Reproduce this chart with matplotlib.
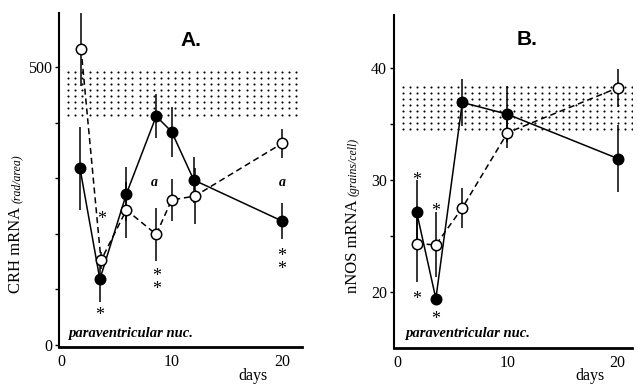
import numpy as np
import matplotlib
matplotlib.use("Agg")
import matplotlib.pyplot as plt

SERIF = "Liberation Serif"
SANS = "Liberation Sans"

# ---------------- Panel A: CRH mRNA ----------------
a_open_x = [1.8, 3.6, 5.9, 8.6, 10.0, 12.1, 20.0]
a_open_y = [533, 152, 243, 199, 261, 268, 363]
a_open_e = [66, 15, 50, 48, 38, 50, 26]
a_fill_x = [1.7, 3.5, 5.9, 8.6, 10.0, 12.0, 20.0]
a_fill_y = [318, 118, 272, 412, 384, 297, 223]
a_fill_e = [75, 40, 48, 40, 45, 41, 33]
a_band = [415, 492]
a_band_x = [0.63, 21.3]

# ---------------- Panel B: nNOS mRNA ----------------
b_open_x = [1.76, 3.5, 5.9, 10.0, 20.0]
b_open_y = [24.3, 24.2, 27.5, 34.2, 38.2]
b_open_e = [3.4, 2.9, 1.8, 1.4, 1.7]
b_fill_x = [1.76, 3.5, 5.9, 10.0, 20.0]
b_fill_y = [27.1, 19.4, 36.9, 35.85, 31.9]
b_fill_e = [2.9, 0.5, 2.1, 2.5, 3.0]
b_band = [34.5, 38.25]
b_band_x = [0.5, 21.3]

fig = plt.figure(figsize=(6.38, 3.84), dpi=100)
axA = fig.add_axes([59/638, 1-347/384, (302-59)/638, (347-13)/384])
axB = fig.add_axes([394/638, 1-348/384, (632-394)/638, (348-15)/384])


def style(ax, xlim, ylim, yticks, ylabels):
    ax.set_xlim(*xlim)
    ax.set_ylim(*ylim)
    for s in ["top", "right"]:
        ax.spines[s].set_visible(False)
    ax.spines["left"].set_linewidth(1.5)
    ax.spines["bottom"].set_linewidth(2.0)
    ax.set_xticks([0, 10, 20])
    ax.set_xticklabels(["0", "10", "20"], fontfamily=SERIF, fontsize=11.5)
    ax.tick_params(axis="x", length=0, pad=5)
    ax.set_yticks(yticks)
    ax.set_yticklabels(ylabels, fontfamily=SERIF, fontsize=11.5)
    ax.tick_params(axis="y", length=3, width=1.0, pad=2, direction="out")


def band(ax, ys, xs, ncol, nrow):
    gx = np.linspace(xs[0], xs[1], ncol)
    gy = np.linspace(ys[0], ys[1], nrow)
    X, Y = np.meshgrid(gx, gy)
    ax.plot(X.ravel(), Y.ravel(), ls="none", marker="o", ms=1.5,
            color="black", mec="none", zorder=1)


def series(ax, x, y, e, filled):
    ax.errorbar(x, y, yerr=e, fmt="none", ecolor="black", elinewidth=1.1,
                capsize=0, zorder=2)
    ax.plot(x, y, color="black", lw=1.1,
            ls="-" if filled else (0, (4, 2.5)), zorder=3)
    ax.plot(x, y, ls="none", marker="o", ms=7.5,
            mfc="black" if filled else "white", mec="black", mew=1.1, zorder=4)


def stars(ax, x, y, n):
    ax.text(x, y, "\n".join(["*"] * n), fontfamily=SERIF, fontsize=13,
            ha="center", va="center", linespacing=0.67)


# Panel A
style(axA, (-0.2, 21.8), (-4, 598), [0, 100, 200, 300, 400, 500],
      ["0", "", "", "", "", "500"])
band(axA, a_band, a_band_x, 33, 8)
series(axA, a_open_x, a_open_y, a_open_e, False)
series(axA, a_fill_x, a_fill_y, a_fill_e, True)
axA.text(11.7, 548, "A.", fontfamily=SANS, fontweight="bold", fontsize=15,
         ha="center", va="center")
axA.text(0.6, 21, "paraventricular nuc.", fontfamily=SERIF, fontweight="bold",
         fontstyle="italic", fontsize=10.5, ha="left", va="center")
for xx, yy in [(8.4, 293), (20.0, 293)]:
    axA.text(xx, yy, "a", fontfamily=SERIF, fontweight="bold",
             fontstyle="italic", fontsize=10, ha="center", va="center")
stars(axA, 3.7, 226, 1)
stars(axA, 3.5, 52, 1)
stars(axA, 8.6, 111, 2)
stars(axA, 20.0, 148, 2)
axA.text(17.4, -0.087, "days", transform=axA.get_xaxis_transform(),
         fontfamily=SERIF, fontsize=11.5, ha="center", va="center")

# Panel B
style(axB, (-0.3, 21.3), (15, 44.7), [20, 25, 30, 35, 40],
      ["20", "", "30", "", "40"])
band(axB, b_band, b_band_x, 34, 8)
series(axB, b_open_x, b_open_y, b_open_e, False)
series(axB, b_fill_x, b_fill_y, b_fill_e, True)
axB.text(11.8, 42.5, "B.", fontfamily=SANS, fontweight="bold", fontsize=15,
         ha="center", va="center")
axB.text(0.7, 16.3, "paraventricular nuc.", fontfamily=SERIF, fontweight="bold",
         fontstyle="italic", fontsize=10.5, ha="left", va="center")
stars(axB, 1.76, 29.9, 1)
stars(axB, 1.76, 19.3, 1)
stars(axB, 3.5, 27.2, 1)
stars(axB, 3.5, 17.5, 1)
axB.text(17.5, -0.085, "days", transform=axB.get_xaxis_transform(),
         fontfamily=SERIF, fontsize=11.5, ha="center", va="center")


# Y labels composed of a main part and a smaller italic unit
def ylabel(xpix, ypix, main, unit):
    fig.canvas.draw()
    r = fig.canvas.get_renderer()
    x = xpix / 638
    y0 = 1 - ypix / 384
    t1 = fig.text(x, y0, main, rotation=90, rotation_mode="anchor",
                  ha="left", va="baseline", fontfamily=SERIF, fontsize=12)
    bb = t1.get_window_extent(renderer=r)
    y1 = y0 + (bb.height + 4) / fig.bbox.height
    fig.text(x, y1, unit, rotation=90, rotation_mode="anchor",
             ha="left", va="baseline", fontfamily=SERIF, fontstyle="italic",
             fontsize=8.5)


ylabel(20, 293, "CRH mRNA", "(rad/area)")
ylabel(357, 293, "nNOS mRNA", "(grains/cell)")

fig.savefig("out.png", dpi=100)
